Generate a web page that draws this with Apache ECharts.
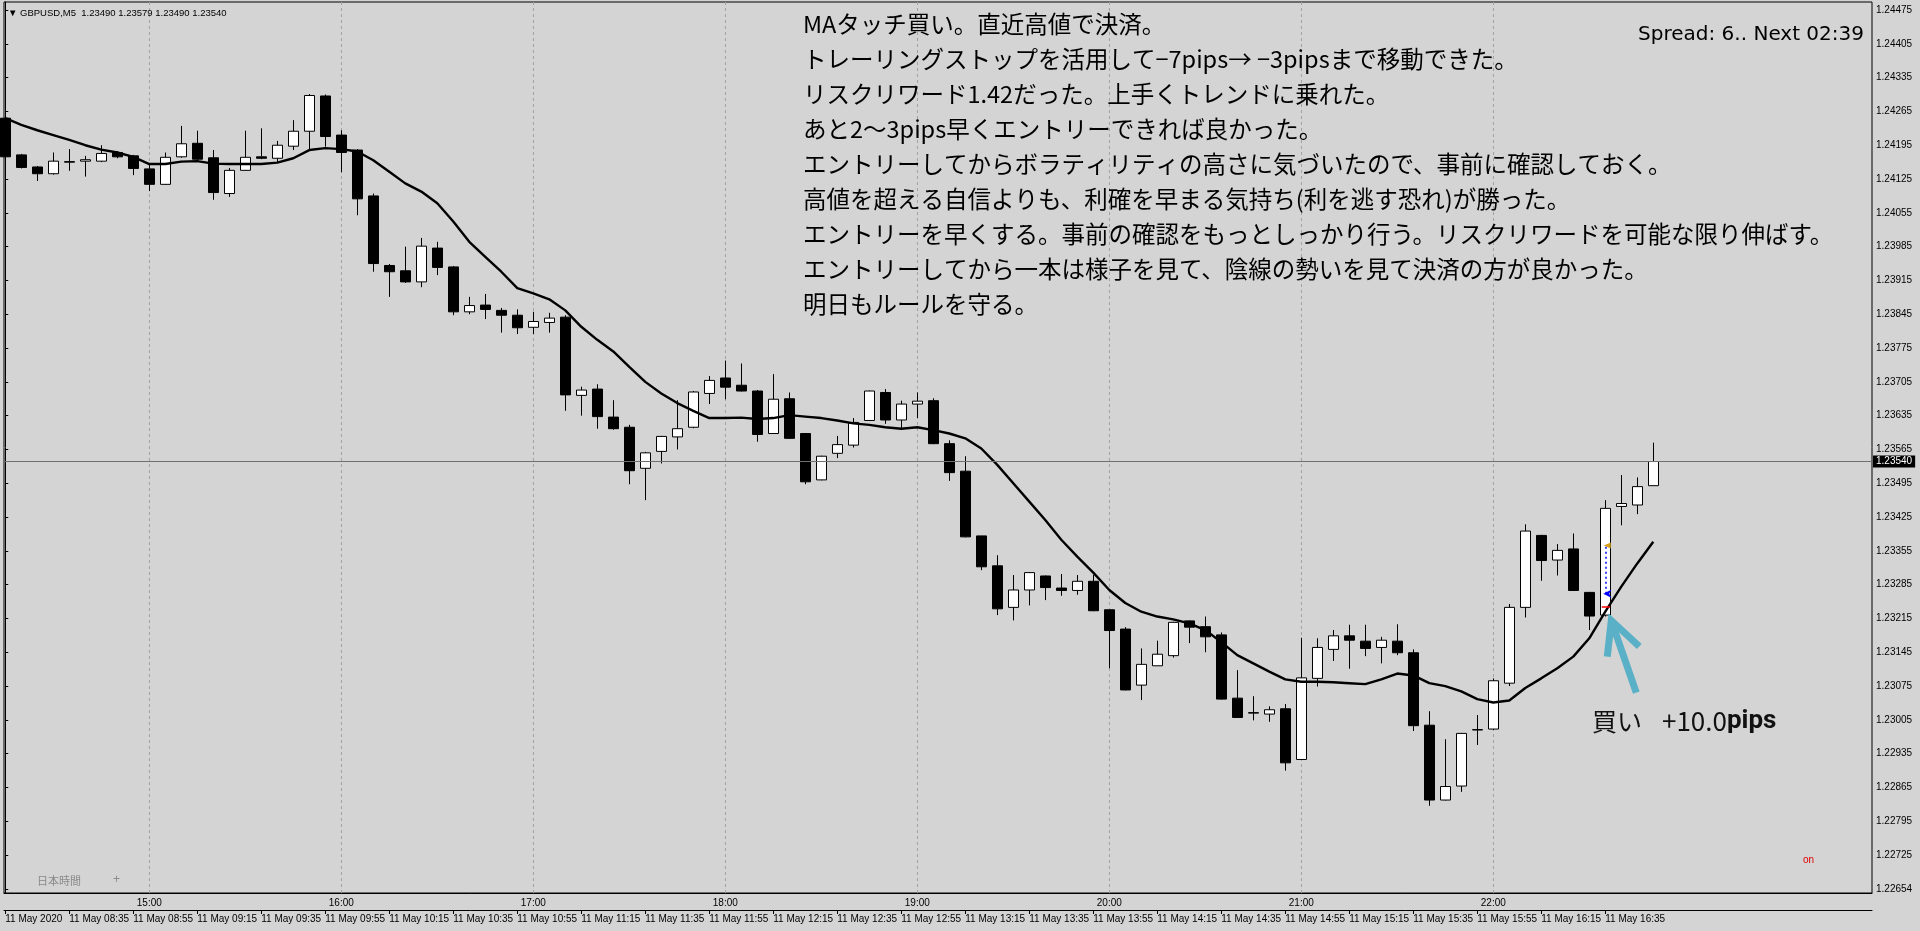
<!DOCTYPE html>
<html><head><meta charset="utf-8">
<script src="https://cdn.jsdelivr.net/npm/echarts@6/dist/echarts.min.js"></script>
<style>html,body{margin:0;padding:0;background:#d4d4d4;}#c{width:1920px;height:931px;}</style>
</head><body><div id="c"></div>
<script>
// ---- data (GBPUSD M5, bars from 08:15 server time / 14:15 JST) ----
const opens = [1.24251,1.24175,1.24150,1.24136,1.24161,1.24162,1.24162,1.24180,1.24173,1.24146,
1.24114,1.24171,1.24199,1.24169,1.24095,1.24143,1.24171,1.24168,1.24193,1.24224,
1.24297,1.24216,1.24185,1.24090,1.23946,1.23935,1.23912,1.23982,1.23943,1.23850,
1.23864,1.23853,1.23843,1.23818,1.23828,1.23839,1.23677,1.23690,1.23632,1.23611,
1.23526,1.23561,1.23591,1.23611,1.23681,1.23713,1.23698,1.23686,1.23598,1.23670,
1.23598,1.23502,1.23557,1.23574,1.23625,1.23683,1.23626,1.23659,1.23666,1.23577,
1.23520,1.23386,1.23324,1.23238,1.23274,1.23303,1.23278,1.23273,1.23292,1.23233,
1.23193,1.23077,1.23117,1.23138,1.23210,1.23198,1.23181,1.23050,1.23020,1.23017,
1.23028,1.22923,1.23091,1.23151,1.23179,1.23168,1.23155,1.23168,1.23144,1.22994,
1.22839,1.22868,1.22984,1.22986,1.23081,1.23238,1.23387,1.23336,1.23359,1.23269,
1.23222,1.23447,1.23450,1.23490];
const highs = [1.24255,1.24177,1.24152,1.24180,1.24187,1.24173,1.24195,1.24183,1.24175,1.24154,
1.24180,1.24235,1.24225,1.24185,1.24148,1.24225,1.24230,1.24204,1.24247,1.24301,
1.24300,1.24226,1.24187,1.24095,1.23949,1.23985,1.24003,1.23995,1.23945,1.23881,
1.23887,1.23858,1.23855,1.23850,1.23848,1.23843,1.23695,1.23700,1.23667,1.23616,
1.23560,1.23593,1.23667,1.23686,1.23717,1.23749,1.23743,1.23688,1.23721,1.23683,
1.23599,1.23552,1.23593,1.23630,1.23687,1.23690,1.23666,1.23683,1.23671,1.23584,
1.23551,1.23386,1.23346,1.23305,1.23311,1.23304,1.23307,1.23305,1.23305,1.23233,
1.23197,1.23153,1.23169,1.23208,1.23211,1.23219,1.23186,1.23108,1.23054,1.23033,
1.23038,1.23175,1.23174,1.23191,1.23202,1.23202,1.23177,1.23203,1.23151,1.23023,
1.22965,1.22978,1.23015,1.23091,1.23245,1.23410,1.23388,1.23369,1.23391,1.23270,
1.23460,1.23512,1.23507,1.23579];
const lows = [1.24168,1.24147,1.24121,1.24134,1.24142,1.24130,1.24160,1.24168,1.24133,1.24100,
1.24113,1.24169,1.24164,1.24082,1.24088,1.24142,1.24166,1.24160,1.24185,1.24185,
1.24192,1.24139,1.24050,1.23933,1.23881,1.23910,1.23901,1.23926,1.23843,1.23845,
1.23835,1.23807,1.23804,1.23804,1.23807,1.23645,1.23635,1.23608,1.23606,1.23493,
1.23460,1.23536,1.23565,1.23609,1.23659,1.23669,1.23685,1.23581,1.23597,1.23587,
1.23493,1.23501,1.23547,1.23569,1.23624,1.23618,1.23609,1.23630,1.23576,1.23500,
1.23383,1.23315,1.23222,1.23211,1.23242,1.23253,1.23262,1.23264,1.23230,1.23112,
1.23066,1.23046,1.23117,1.23134,1.23164,1.23145,1.23047,1.23009,1.23004,1.23001,
1.22900,1.22922,1.23074,1.23127,1.23111,1.23137,1.23122,1.23139,1.22982,1.22827,
1.22838,1.22856,1.22953,1.22984,1.23075,1.23217,1.23293,1.23304,1.23272,1.23191,
1.23219,1.23408,1.23431,1.23490];
const closes = [1.24171,1.24149,1.24136,1.24162,1.24160,1.24165,1.24178,1.24171,1.24147,1.24114,
1.24170,1.24198,1.24166,1.24097,1.24143,1.24170,1.24168,1.24195,1.24224,1.24298,
1.24213,1.24180,1.24084,1.23950,1.23933,1.23912,1.23986,1.23942,1.23850,1.23863,
1.23855,1.23843,1.23817,1.23830,1.23837,1.23678,1.23688,1.23633,1.23608,1.23521,
1.23558,1.23592,1.23608,1.23684,1.23708,1.23694,1.23686,1.23596,1.23669,1.23588,
1.23498,1.23551,1.23575,1.23621,1.23686,1.23626,1.23659,1.23665,1.23577,1.23517,
1.23384,1.23322,1.23235,1.23274,1.23310,1.23279,1.23273,1.23292,1.23231,1.23190,
1.23067,1.23120,1.23141,1.23207,1.23197,1.23177,1.23048,1.23010,1.23019,1.23026,
1.22916,1.23092,1.23155,1.23179,1.23170,1.23153,1.23170,1.23144,1.22993,1.22839,
1.22867,1.22977,1.22985,1.23086,1.23238,1.23396,1.23335,1.23356,1.23273,1.23220,
1.23443,1.23453,1.23488,1.23540];
const maValues = [1.24251,1.24237,1.24226,1.24216,1.24206,1.24195,1.24186,1.24180,1.24171,1.24156,
1.24156,1.24161,1.24162,1.24157,1.24156,1.24156,1.24156,1.24159,1.24168,1.24185,
1.24189,1.24187,1.24182,1.24164,1.24140,1.24116,1.24099,1.24075,1.24037,1.23995,
1.23964,1.23933,1.23899,1.23888,1.23876,1.23853,1.23819,1.23792,1.23768,1.23736,
1.23705,1.23681,1.23661,1.23645,1.23630,1.23630,1.23631,1.23628,1.23630,1.23636,
1.23633,1.23630,1.23625,1.23619,1.23616,1.23611,1.23608,1.23611,1.23605,1.23598,
1.23588,1.23567,1.23533,1.23495,1.23457,1.23419,1.23378,1.23343,1.23310,1.23274,
1.23247,1.23229,1.23219,1.23213,1.23205,1.23191,1.23166,1.23139,1.23122,1.23105,
1.23089,1.23084,1.23084,1.23083,1.23081,1.23079,1.23089,1.23101,1.23097,1.23081,
1.23075,1.23064,1.23048,1.23041,1.23045,1.23071,1.23091,1.23112,1.23136,1.23174,
1.23229,1.23281,1.23329,1.23374];
const priceTicks = [1.24475,1.24405,1.24335,1.24265,1.24195,1.24125,1.24055,1.23985,1.23915,1.23845,
1.23775,1.23705,1.23635,1.23565,1.23495,1.23425,1.23355,1.23285,1.23215,1.23145,
1.23075,1.23005,1.22935,1.22865,1.22795,1.22725,1.22654];
const jstHourIdx = [9,21,33,45,57,69,81,93];
const jstHourLabels = ['15:00','16:00','17:00','18:00','19:00','20:00','21:00','22:00'];
const serverTickIdx = [0,4,8,12,16,20,24,28,32,36,40,44,48,52,56,60,64,68,72,76,80,84,88,92,96,100];
const serverTickLabels = ['11 May 2020','11 May 08:35','11 May 08:55','11 May 09:15','11 May 09:35','11 May 09:55',
'11 May 10:15','11 May 10:35','11 May 10:55','11 May 11:15','11 May 11:35','11 May 11:55','11 May 12:15',
'11 May 12:35','11 May 12:55','11 May 13:15','11 May 13:35','11 May 13:55','11 May 14:15','11 May 14:35',
'11 May 14:55','11 May 15:15','11 May 15:35','11 May 15:55','11 May 16:15','11 May 16:35'];
const symbolName = 'GBPUSD,M5';
const lastPrice = 1.23540;
const entryBar = 100;
const entryPrice = 1.23266;
const exitPrice = 1.23366;
const stopPrice = 1.23239;
const memoLines = [
'MAタッチ買い。直近高値で決済。',
'トレーリングストップを活用して−7pips→ −3pipsまで移動できた。',
'リスクリワード1.42だった。上手くトレンドに乗れた。',
'あと2〜3pips早くエントリーできれば良かった。',
'エントリーしてからボラティリティの高さに気づいたので、事前に確認しておく。',
'高値を超える自信よりも、利確を早まる気持ち(利を逃す恐れ)が勝った。',
'エントリーを早くする。事前の確認をもっとしっかり行う。リスクリワードを可能な限り伸ばす。',
'エントリーしてから一本は様子を見て、陰線の勢いを見て決済の方が良かった。',
'明日もルールを守る。'
];
const spreadText = 'Spread: 6.. Next 02:39';
const tradeLabel = ['買い', '+10.0', 'pips'];

// ---- chart ----
const X_MIN = -0.08, X_MAX = 116.67, Y_MIN = 1.226465, Y_MAX = 1.244916;
const AF = 'Liberation Sans';
const BG = '#d4d4d4';
const chart = echarts.init(document.getElementById('c'));
const candleData = opens.map((o, i) => [i, o, closes[i], lows[i], highs[i]]);
const maData = maValues.map((v, i) => [i, v]);

chart.setOption({
  backgroundColor: BG,
  animation: false,
  grid: {left: 4, right: 48, top: 2, bottom: 38, show: true, borderColor: '#000', borderWidth: 1, backgroundColor: BG},
  xAxis: [
    {type: 'value', min: X_MIN, max: X_MAX, position: 'bottom',
     axisLine: {show: true, onZero: false, lineStyle: {color: '#000'}},
     axisTick: {show: false}, splitLine: {show: false},
     axisLabel: {customValues: jstHourIdx, formatter: v => jstHourLabels[jstHourIdx.indexOf(v)],
                 color: '#000', fontSize: 10, fontFamily: AF, margin: 5}},
    {type: 'value', min: X_MIN, max: X_MAX, position: 'bottom', offset: 17,
     axisLine: {show: true, onZero: false, lineStyle: {color: '#000'}},
     axisTick: {show: true, customValues: serverTickIdx, length: 4, lineStyle: {color: '#000'}},
     splitLine: {show: false},
     axisLabel: {customValues: serverTickIdx, formatter: v => serverTickLabels[serverTickIdx.indexOf(v)],
                 align: 'left', color: '#000', fontSize: 10, fontFamily: AF, margin: 4}}
  ],
  yAxis: {type: 'value', position: 'right', min: Y_MIN, max: Y_MAX,
    axisLine: {show: true, lineStyle: {color: '#000'}},
    axisTick: {show: true, customValues: priceTicks, length: 3, lineStyle: {color: '#000'}},
    splitLine: {show: false},
    axisLabel: {customValues: priceTicks, formatter: v => v.toFixed(5), color: '#000', fontSize: 10, fontFamily: AF, margin: 4}},
  series: [
    {type: 'candlestick', name: symbolName, xAxisIndex: 0, yAxisIndex: 0, data: candleData,
     encode: {x: 0, y: [1, 2, 3, 4]}, barWidth: 10, z: 2, silent: true, clip: true,
     itemStyle: {color: '#ffffff', color0: '#000000', borderColor: '#000000', borderColor0: '#000000', borderWidth: 1},
     markLine: {silent: true, symbol: ['none', 'none'], z: 1, animation: false, label: {show: false},
       data: jstHourIdx.map(v => ({xAxis: v, lineStyle: {color: '#a2a2a2', type: [3, 3], width: 1}}))
     }},
    {type: 'line', name: 'MA', xAxisIndex: 0, yAxisIndex: 0, data: maData, showSymbol: false, symbol: 'none',
     lineStyle: {color: '#000', width: 2.4}, z: 3, silent: true,
     markLine: {silent: true, symbol: ['none', 'none'], animation: false, label: {show: false},
       data: [
         [{coord: [X_MIN, lastPrice]},
          {coord: [X_MAX, lastPrice], lineStyle: {color: '#707070', type: 'solid', width: 1},
           label: {show: true, position: 'end', formatter: lastPrice.toFixed(5), color: '#fff', backgroundColor: '#000',
                   padding: [1, 3, 1, 3], fontSize: 10, fontFamily: AF, distance: 1}}],
         [{coord: [entryBar, entryPrice]}, {coord: [entryBar, exitPrice], lineStyle: {color: '#0000ff', type: [2, 3], width: 1.5}}],
         [{coord: [entryBar - 0.22, stopPrice]}, {coord: [entryBar + 0.3, stopPrice], lineStyle: {color: '#ff0000', type: 'solid', width: 1.5}}]
       ]},
     markPoint: {silent: true, animation: false, label: {show: false},
       data: [
         {coord: [entryBar, entryPrice], symbol: 'arrow', symbolSize: [6, 8], symbolRotate: 90, symbolOffset: [-2, 0], itemStyle: {color: '#0000ff'}},
         {coord: [entryBar, exitPrice], symbol: 'triangle', symbolSize: [6, 7], symbolRotate: 90, symbolOffset: [2, 0], itemStyle: {color: '#d4a017'}}
       ]}}
  ]
});

// annotation arrow anchored to the entry bar's low
const tip = chart.convertToPixel({gridIndex: 0}, [entryBar, lows[entryBar]]);
const tx = tip[0], ty = tip[1];
const hdr = '▼ ' + symbolName + '  ' + [opens[103], highs[103], lows[103], closes[103]].map(v => v.toFixed(5)).join(' ');

chart.setOption({
  graphic: [
    {type: 'text', left: 8, top: 8, z: 10, style: {text: hdr, fontSize: 9.5, fontFamily: AF, fill: '#000'}},
    {type: 'text', left: 803, top: 7, z: 10, style: {text: memoLines.join('\n'), fontSize: 23.5, lineHeight: 35,
      fontFamily: '"Noto Sans CJK JP"', fill: '#000'}},
    {type: 'text', right: 56, top: 25, z: 10, style: {text: spreadText, fontSize: 20, fontFamily: 'DejaVu Sans', fill: '#000'}},
    {type: 'text', left: 1592, top: 708, z: 10, style: {
      text: '{a|' + tradeLabel[0] + '}{s| }{b|' + tradeLabel[1] + '}{c|' + tradeLabel[2] + '}',
      rich: {a: {fontSize: 25, fontFamily: '"Noto Sans CJK JP"', fill: '#111'},
             s: {fontSize: 12, width: 20},
             b: {fontSize: 26, fontFamily: '"Noto Sans CJK JP"', fill: '#111'},
             c: {fontSize: 26, fontWeight: 'bold', fontFamily: 'Roboto', fill: '#111'}}}},
    {type: 'polyline', z: 10, shape: {points: [[tx + 6, ty + 4], [tx + 31, ty + 76]]},
     style: {stroke: '#5ab0c6', lineWidth: 7, fill: null}},
    {type: 'polyline', z: 10, shape: {points: [[tx + 2, ty + 40], [tx + 6, ty + 4], [tx + 34, ty + 30]]},
     style: {stroke: '#5ab0c6', lineWidth: 7, fill: null, lineJoin: 'miter'}},
    {type: 'text', left: 37, top: 875, z: 10, style: {text: '日本時間', fontSize: 11, fontFamily: '"Noto Sans CJK JP"', fill: '#8a8a8a'}},
    {type: 'text', left: 113, top: 874, z: 10, style: {text: '+', fontSize: 12, fontFamily: AF, fill: '#8a8a8a'}},
    {type: 'text', left: 1803, top: 855, z: 10, style: {text: 'on', fontSize: 10, fontFamily: AF, fill: '#e00000'}}
  ]
});
</script>
</body></html>
